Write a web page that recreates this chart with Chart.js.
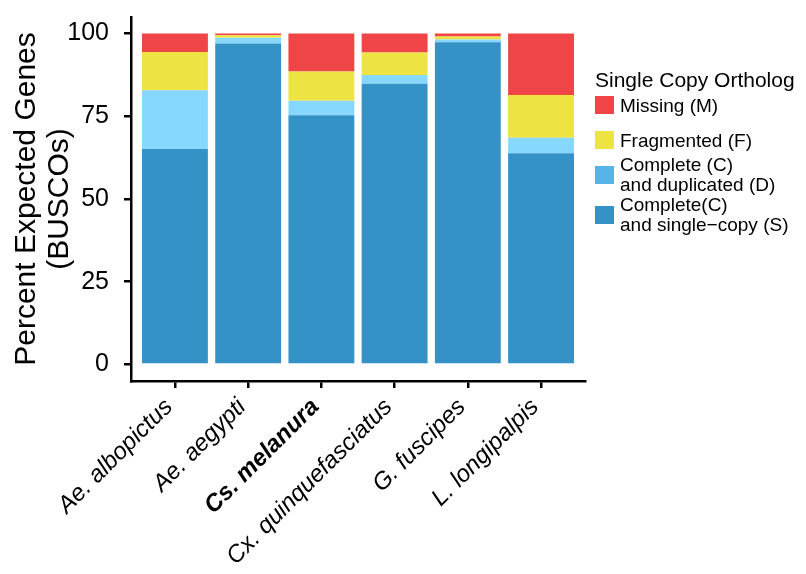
<!DOCTYPE html>
<html>
<head>
<meta charset="utf-8">
<script src="https://cdn.jsdelivr.net/npm/chart.js@4.4.1/dist/chart.umd.min.js"></script>
<style>
  html, body { margin: 0; padding: 0; background: #fff; }
  #wrap { width: 806px; height: 574px; }
</style>
</head>
<body>
<div id="wrap"><canvas id="buscoChart" width="806" height="574"></canvas></div>
<script>
// species along the x axis
const species = ["Ae. albopictus", "Ae. aegypti", "Cs. melanura", "Cx. quinquefasciatus", "G. fuscipes", "L. longipalpis"];

// percent of BUSCOs in each class (bottom to top of the stack)
const singleCopy = [65.1, 97.0, 75.3, 84.8, 97.4, 63.8];
const duplicated = [17.8, 1.7, 4.4, 2.7, 0.8, 4.7];
const fragmented = [11.5, 0.8, 8.8, 6.8, 0.9, 12.9];
const missing = [5.6, 0.5, 11.5, 5.7, 0.9, 18.6];

const yTicks = [0, 25, 50, 75, 100];

const FONT = "'Liberation Sans', Arial, Helvetica, sans-serif";

// legend entries, top to bottom
const legendItems = [
  { lines: ["Missing (M)"], color: "#F04546" },
  { lines: ["Fragmented (F)"], color: "#EDE342" },
  { lines: ["Complete (C)", "and duplicated (D)"], color: "#56B4E9" },
  { lines: ["Complete(C)", "and single\u2212copy (S)"], color: "#3492C7" },
];

const toPoints = (arr) => arr.map((v, i) => ({ x: i + 1, y: v }));

const legendPlugin = {
  id: "orthologLegend",
  afterDraw(chart) {
    const ctx = chart.ctx;
    ctx.save();
    ctx.fillStyle = "#000";
    ctx.textBaseline = "alphabetic";
    ctx.textAlign = "left";
    ctx.font = "21px " + FONT;
    ctx.fillText("Single Copy Ortholog", 595, 87);

    ctx.font = "19px " + FONT;
    let top = 96;
    legendItems.forEach((item) => {
      ctx.fillStyle = item.color;
      ctx.fillRect(595, top, 19, 18);
      ctx.fillStyle = "#000";
      if (item.lines.length === 1) {
        ctx.fillText(item.lines[0], 620, top + 16);
        top += 35;
      } else {
        ctx.fillText(item.lines[0], 620, top + 5);
        ctx.fillText(item.lines[1], 620, top + 25);
        top += 40;
      }
    });
    ctx.restore();
  },
};

new Chart(document.getElementById("buscoChart"), {
  type: "bar",
  data: {
    datasets: [
      { label: "Complete(C) and single-copy (S)", data: toPoints(singleCopy), backgroundColor: "#3492C7" },
      { label: "Complete (C) and duplicated (D)", data: toPoints(duplicated), backgroundColor: "#87D8FE" },
      { label: "Fragmented (F)", data: toPoints(fragmented), backgroundColor: "#EDE342" },
      { label: "Missing (M)", data: toPoints(missing), backgroundColor: "#F04546" },
    ],
  },
  options: {
    responsive: false,
    animation: false,
    barPercentage: 0.9,
    categoryPercentage: 1.0,
    layout: { padding: { left: 0, right: 221, top: 17, bottom: 0 } },
    plugins: {
      legend: { display: false },
      tooltip: { enabled: false },
    },
    scales: {
      x: {
        type: "linear",
        stacked: true,
        offset: false,
        min: 0.4,
        max: 6.6,
        afterBuildTicks: (scale) => {
          scale.ticks = species.map((s, i) => ({ value: i + 1 }));
        },
        afterFit: (scale) => {
          scale.height = 193;
          scale.paddingLeft = 0;
          scale.paddingRight = 0;
        },
        grid: { offset: false, drawOnChartArea: false, drawTicks: true, tickLength: 7, color: "#000", lineWidth: 2.5 },
        border: { display: true, color: "#000", width: 2.5 },
        ticks: {
          autoSkip: false,
          maxRotation: 45,
          minRotation: 45,
          padding: 5,
          labelOffset: -6,
          color: "#000",
          callback: (value) => species[value - 1],
          font: (ctx) => ({
            family: FONT,
            size: 24,
            style: "italic",
            weight: ctx.index === 2 ? "bold" : "normal",
          }),
        },
      },
      y: {
        stacked: true,
        min: -5,
        max: 105,
        afterBuildTicks: (scale) => {
          scale.ticks = yTicks.map((v) => ({ value: v }));
        },
        afterFit: (scale) => {
          scale.width = 131;
          scale.paddingTop = 0;
          scale.paddingBottom = 0;
        },
        grid: { drawOnChartArea: false, drawTicks: true, tickLength: 7, color: "#000", lineWidth: 2.5 },
        border: { display: true, color: "#000", width: 2.5 },
        ticks: {
          padding: 15,
          color: "#000",
          font: { family: FONT, size: 25 },
        },
        title: {
          display: true,
          text: ["Percent Expected Genes", "(BUSCOs)"],
          color: "#000",
          font: { family: FONT, size: 30, lineHeight: 1.1 },
          padding: { top: 10, bottom: 0 },
        },
      },
    },
  },
  plugins: [legendPlugin],
});
</script>
</body>
</html>
